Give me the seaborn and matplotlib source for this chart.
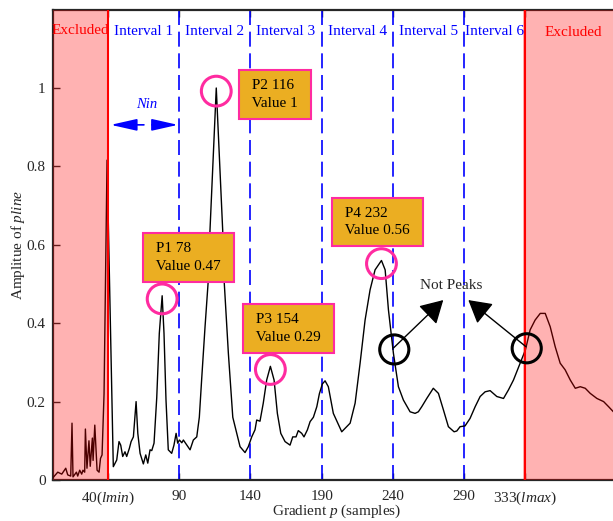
import matplotlib
matplotlib.use("Agg")
import matplotlib.pyplot as plt
import seaborn as sns
import pandas as pd

# ---------------- data ----------------
p_samples = [1.1, 4.7, 7.5, 10.3, 11.7, 13.8, 14.7, 15.4, 17.8, 18.7, 20.1, 21.5, 22.4, 23.6,
             24.1, 25.2, 26.6, 27.5, 29.0, 29.5, 30.7, 32.3, 33.7, 34.7, 35.8, 37.2, 39.3,
             43.7, 46.1, 47.7, 48.9, 50.3, 51.9, 53.1, 55.0, 56.2, 57.8, 59.7, 60.9, 62.5,
             64.8, 66.5, 67.9, 69.5, 70.7, 72.3, 74.2, 76.0, 78.0, 79.3, 80.7, 82.3, 84.7,
             86.3, 87.8, 88.9, 90.1, 91.8, 92.9, 95.3, 97.6, 99.9, 102.3, 104.1, 105.8,
             108.1, 110.4, 111.6, 116.0, 120.5, 121.5, 124.5, 127.6, 130.4, 132.7, 136.2,
             138.5, 140.9, 143.2, 144.4, 146.7, 149.0, 151.4, 154.0, 156.6, 158.9, 161.3,
             164.3, 167.8, 169.7, 172.0, 173.6, 176.0, 177.6, 180.0, 181.9, 184.2, 186.6,
             188.4, 190.5, 192.4, 194.7, 198.2, 204.1, 210.0, 213.5, 217.0, 220.5, 224.0,
             227.5, 232.0, 234.6, 236.9, 240.4, 243.9, 247.4, 252.1, 255.6, 257.9, 260.3,
             263.8, 268.4, 272.0, 275.5, 279.0, 283.0, 284.9, 287.2, 290.7, 294.2, 297.8,
             301.3, 304.8, 308.3, 313.0, 317.7, 321.2, 324.7, 329.4, 333.1, 336.4, 339.9,
             343.5, 347.0, 350.5, 354.0, 357.5, 361.0, 364.6, 368.1, 371.6, 375.1, 378.6,
             383.3, 388.0, 391.5, 394.8, 399.0]
amplitude = [0.005, 0.02, 0.015, 0.03, 0.013, 0.01, 0.145, 0.008, 0.02, 0.01, 0.025, 0.015,
             0.025, 0.02, 0.13, 0.03, 0.1, 0.035, 0.107, 0.05, 0.14, 0.025, 0.02, 0.055, 0.064,
             0.22, 0.816,
             0.034, 0.051, 0.098, 0.089, 0.06, 0.072, 0.06, 0.081, 0.098, 0.11, 0.2, 0.119,
             0.068, 0.041, 0.064, 0.043, 0.077, 0.075, 0.094, 0.21, 0.374, 0.47, 0.374, 0.204,
             0.077, 0.068, 0.089, 0.119, 0.094, 0.102, 0.095, 0.102, 0.089, 0.077, 0.102,
             0.11, 0.16, 0.26, 0.39, 0.51, 0.638, 1.0, 0.638, 0.51, 0.323, 0.16, 0.119, 0.085,
             0.07, 0.085, 0.11, 0.128, 0.153, 0.15, 0.196, 0.255, 0.29, 0.255, 0.17, 0.119,
             0.098, 0.089, 0.11, 0.11, 0.126, 0.119, 0.11, 0.128, 0.149, 0.16, 0.187, 0.22,
             0.245, 0.253, 0.238, 0.17, 0.123, 0.145, 0.196, 0.298, 0.408, 0.485, 0.536, 0.56,
             0.536, 0.434, 0.323, 0.238, 0.204, 0.174, 0.17, 0.174, 0.187, 0.208, 0.234, 0.221,
             0.179, 0.136, 0.123, 0.125, 0.136, 0.138, 0.157, 0.187, 0.213, 0.225, 0.228,
             0.213, 0.208, 0.23, 0.255, 0.298, 0.332, 0.383, 0.408, 0.425, 0.425, 0.391, 0.34,
             0.298, 0.281, 0.255, 0.234, 0.238, 0.234, 0.221, 0.208, 0.2, 0.187, 0.174, 0.16]

lmin, lmax = 40, 333
interval_bounds = [40, 90, 140, 190, 240, 290, 333]
interval_labels = ["Interval 1", "Interval 2", "Interval 3", "Interval 4", "Interval 5", "Interval 6"]
xtick_vals = [40, 90, 140, 190, 240, 290, 333]
xtick_labels = [r"40($\mathit{lmin}$)", "90", "140", "190", "240", "290", r"333($\mathit{lmax}$)"]
ytick_vals = [0, 0.2, 0.4, 0.6, 0.8, 1]
ytick_labels = ["0", "0.2", "0.4", "0.6", "0.8", "1"]

peak_names = ["P1", "P2", "P3", "P4"]
peak_pos = [78, 116, 154, 232]
peak_val = [0.47, 1, 0.29, 0.56]
peak_box_x = [96.4, 157.1, 166.4, 229.3]
peak_box_y = [0.568, 0.984, 0.387, 0.658]

notpeak_x = [241, 334]
notpeak_y = [0.333, 0.336]
notpeak_text_xy = (280.8, 0.497)
notpeak_tips = [(275.4, 0.459), (293.0, 0.459)]

nin_y = 0.906
nin_left = (65.2, 41.9)
nin_right = (70.8, 89.1)

x_range = (1, 400)
y_range = (0, 1.2)

# ---------------- style ----------------
sns.set_style("ticks")
plt.rcParams["font.family"] = ["Liberation Serif", "DejaVu Serif"]
plt.rcParams["mathtext.fontset"] = "custom"
plt.rcParams["mathtext.rm"] = "Liberation Serif"
plt.rcParams["mathtext.it"] = "Liberation Serif:italic"
plt.rcParams["mathtext.bf"] = "Liberation Serif:bold"

BLUE = "#0000FF"
RED = "#FF0000"
MAGENTA = "#FF2BA0"
GOLD = "#EBAE22"
FS = 11

fig = plt.figure(figsize=(6.13, 5.21), dpi=100)
ax = fig.add_axes([52.5 / 613, 41 / 521, (620.7 - 52.5) / 613, 470.4 / 521])

df = pd.DataFrame({"p": p_samples, "amp": amplitude})
sns.lineplot(data=df, x="p", y="amp", ax=ax, color="black", lw=1.0, zorder=3)

# excluded regions
ax.axvspan(x_range[0], lmin, color=RED, alpha=0.3, lw=0, zorder=4)
ax.axvspan(lmax - 1.5, x_range[1], color=RED, alpha=0.3, lw=0, zorder=4)
ax.axvline(lmin, color=RED, lw=1.5, zorder=5)
ax.axvline(lmax, color=RED, lw=1.5, zorder=5)

# interval dashed lines
for b in interval_bounds[1:-1]:
    ax.axvline(b, color=BLUE, lw=1.2, linestyle=(0, (9, 4)), zorder=2)

label_y = 1.143
for i, lab in enumerate(interval_labels):
    xm = (interval_bounds[i] + interval_bounds[i + 1]) / 2
    ax.text(xm, label_y, lab, color=BLUE, fontsize=FS, ha="center", va="center", zorder=6)
ax.text((x_range[0] + lmin) / 2, 1.146, "Excluded", color=RED, fontsize=FS,
        ha="center", va="center", zorder=6)
ax.text((lmax + x_range[1]) / 2, 1.142, "Excluded", color=RED, fontsize=FS,
        ha="center", va="center", zorder=6)

# Nin arrows
arrow_kw = dict(arrowstyle="-|>,head_length=1.6,head_width=0.36", color=BLUE, lw=1.2,
                shrinkA=0, shrinkB=0, mutation_scale=10)
ax.annotate("", xy=(nin_left[1], nin_y), xytext=(nin_left[0], nin_y), arrowprops=arrow_kw, zorder=6)
ax.annotate("", xy=(nin_right[1], nin_y), xytext=(nin_right[0], nin_y), arrowprops=arrow_kw, zorder=6)
ax.text(67.3, 0.959, "Nin", color=BLUE, fontsize=FS - 0.5, style="italic", ha="center", va="center")

# peak circles + labels
ax.scatter(peak_pos, [v - 0.008 for v in peak_val], s=460, facecolors="none",
           edgecolors=MAGENTA, linewidths=2.2, zorder=7)
for name, pos, val, bx, by in zip(peak_names, peak_pos, peak_val, peak_box_x, peak_box_y):
    ax.text(bx, by, f" {name} {pos}\n Value {val:g} ", fontsize=FS, color="black",
            ha="center", va="center", multialignment="left", linespacing=1.45, zorder=8,
            bbox=dict(boxstyle="square,pad=0.6", facecolor=GOLD, edgecolor=MAGENTA, lw=1.5))

# not-peaks
ax.scatter(notpeak_x, notpeak_y, s=440, facecolors="none", edgecolors="black",
           linewidths=2.2, zorder=7)
ax.text(*notpeak_text_xy, "Not Peaks", fontsize=FS, ha="center", va="center", zorder=8)
for (nx, ny), tip in zip(zip(notpeak_x, notpeak_y), notpeak_tips):
    ax.annotate("", xy=tip, xytext=(nx - 0.5, ny + 0.004),
                arrowprops=dict(arrowstyle="-|>,head_length=1.4,head_width=0.8", color="black",
                                lw=1.0, shrinkA=0, shrinkB=0, mutation_scale=10), zorder=8)

# axes
ax.set_xlim(*x_range)
ax.set_ylim(*y_range)
ax.set_xticks(xtick_vals)
ax.set_xticklabels(xtick_labels)
ax.set_yticks(ytick_vals)
ax.set_yticklabels(ytick_labels)
ax.tick_params(axis="both", direction="in", length=5, width=1, labelsize=FS,
               colors="#262626", labelcolor="#262626")
ax.tick_params(axis="x", top=True, pad=7)
ax.tick_params(axis="y", pad=5)
ax.set_xlabel(r"Gradient $\mathit{p}$ (samples)", fontsize=FS, labelpad=-3, color="#262626")
ax.set_ylabel(r"Amplitue of $\mathit{pline}$", fontsize=FS, labelpad=0, color="#262626")
for s in ["left", "bottom", "top"]:
    ax.spines[s].set_linewidth(1.6)
    ax.spines[s].set_color("#262626")
ax.spines["right"].set_visible(False)
ax.grid(False)

fig.savefig("out.png", dpi=100)
